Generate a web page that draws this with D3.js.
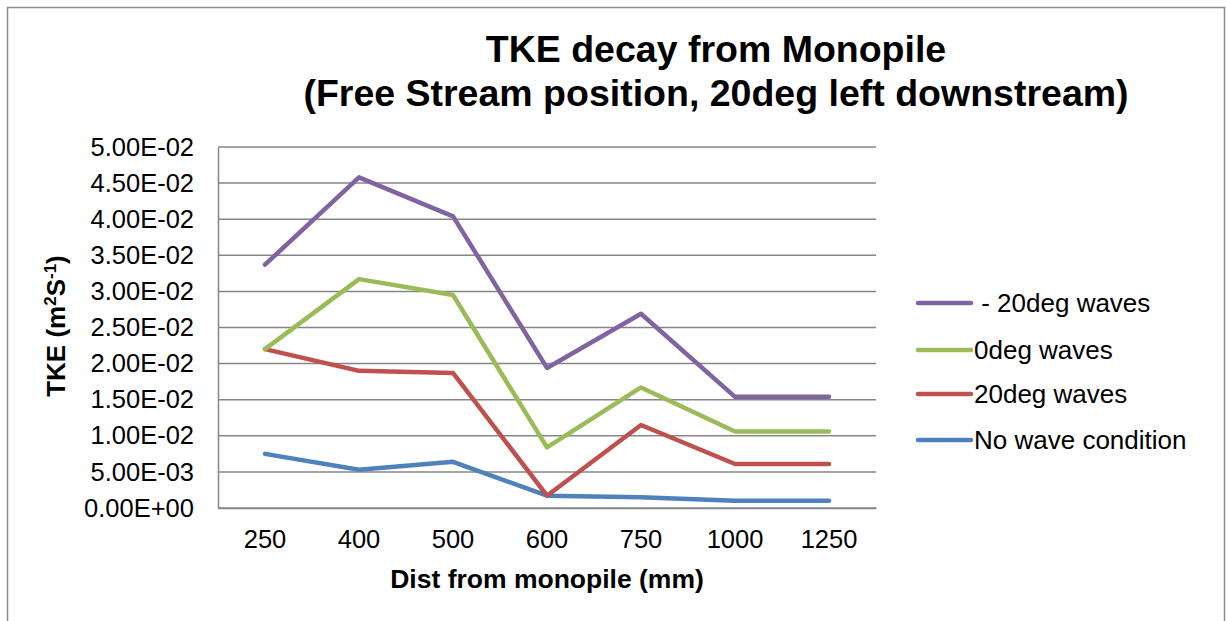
<!DOCTYPE html>
<html>
<head>
<meta charset="utf-8">
<script src="https://cdn.jsdelivr.net/npm/d3@7/dist/d3.min.js"></script>
<style>
  body, html { margin: 0; padding: 0; background: #fff; }
  svg { display: block; font-family: "Liberation Sans", Arial, sans-serif; }
</style>
</head>
<body>
<svg width="1226" height="621"></svg>
<script>
  // categories (distance from monopile, mm)
  var dists = ['250', '400', '500', '600', '750', '1000', '1250'];

  var minus20 = [0.0337, 0.0458, 0.0404, 0.0194, 0.0269, 0.0154, 0.0154],
      zero    = [0.0220, 0.0317, 0.0295, 0.0084, 0.0167, 0.0106, 0.0106],
      plus20  = [0.0220, 0.0190, 0.0187, 0.0017, 0.0115, 0.0061, 0.0061],
      noWave  = [0.0075, 0.0053, 0.0064, 0.0017, 0.0015, 0.0010, 0.0010];

  var seriesNames = [' - 20deg waves', '0deg waves', '20deg waves', 'No wave condition'];
  var yTicks = [0, 0.005, 0.01, 0.015, 0.02, 0.025, 0.03, 0.035, 0.04, 0.045, 0.05];

  var series = [
    { name: seriesNames[0], values: minus20, color: '#8064a2' },
    { name: seriesNames[1], values: zero,    color: '#9bbb59' },
    { name: seriesNames[2], values: plus20,  color: '#c0504d' },
    { name: seriesNames[3], values: noWave,  color: '#4f81bd' }
  ];

  var svg = d3.select('svg');

  // chart frame
  svg.append('rect')
    .attr('x', 7.5).attr('y', 7.5).attr('width', 1217).attr('height', 640)
    .attr('fill', 'none').attr('stroke', '#8c8c8c').attr('stroke-width', 1.5);

  var plotL = 218, plotT = 147, plotR = 876, plotB = 508;

  var x = d3.scaleBand().domain(dists).range([plotL, plotR]);
  var y = d3.scaleLinear().domain([0, 0.05]).range([plotB, plotT]);

  // gridlines
  svg.append('g').selectAll('line')
    .data(yTicks)
    .enter().append('line')
    .attr('x1', plotL).attr('x2', plotR)
    .attr('y1', function(d) { return y(d); })
    .attr('y2', function(d) { return y(d); })
    .attr('stroke', '#868686').attr('stroke-width', 1.5);

  // y axis
  var yAxis = d3.axisLeft(y).tickValues(yTicks).tickSize(0).tickPadding(24)
    .tickFormat(function(d) {
      var s = d.toExponential(2).toUpperCase();
      return s.replace(/E([+-])(\d)$/, 'E$10$2');
    });
  var gy = svg.append('g').attr('transform', 'translate(' + plotL + ',0)').call(yAxis);
  gy.select('.domain').attr('stroke', '#868686').attr('stroke-width', 1.5);
  gy.selectAll('text').attr('font-size', 25.5).attr('fill', '#000')
    .attr('font-family', '"Liberation Sans", Arial, sans-serif');

  // x axis
  var xAxis = d3.axisBottom(x).tickSize(0).tickPadding(22);
  var gx = svg.append('g').attr('transform', 'translate(0,' + plotB + ')').call(xAxis);
  gx.select('.domain').attr('stroke', '#868686').attr('stroke-width', 1.5);
  gx.selectAll('text').attr('font-size', 25.5).attr('fill', '#000')
    .attr('font-family', '"Liberation Sans", Arial, sans-serif');

  // lines
  var line = d3.line()
    .x(function(d, i) { return x(dists[i]) + x.bandwidth() / 2; })
    .y(function(d) { return y(d); });

  svg.append('g').selectAll('path')
    .data(series.slice().reverse())
    .enter().append('path')
    .attr('d', function(s) { return line(s.values); })
    .attr('fill', 'none')
    .attr('stroke', function(s) { return s.color; })
    .attr('stroke-width', 4.5)
    .attr('stroke-linejoin', 'round')
    .attr('stroke-linecap', 'round');

  // titles
  var title = svg.append('text')
    .attr('text-anchor', 'middle')
    .attr('font-size', 37.5).attr('font-weight', 'bold');
  title.append('tspan').attr('x', 716).attr('y', 62).text('TKE decay from Monopile');
  title.append('tspan').attr('x', 716).attr('y', 106).text('(Free Stream position, 20deg left downstream)');

  svg.append('text')
    .attr('x', 547).attr('y', 588)
    .attr('text-anchor', 'middle')
    .attr('font-size', 26.5).attr('font-weight', 'bold')
    .text('Dist from monopile (mm)');

  var yt = svg.append('text')
    .attr('transform', 'translate(65,326) rotate(-90)')
    .attr('text-anchor', 'middle')
    .attr('font-size', 26).attr('font-weight', 'bold');
  yt.append('tspan').text('TKE (m');
  yt.append('tspan').attr('font-size', 17).attr('dy', -9).text('2');
  yt.append('tspan').attr('dy', 9).text('S');
  yt.append('tspan').attr('font-size', 17).attr('dy', -9).text('-1');
  yt.append('tspan').attr('dy', 9).text(')');

  // legend
  var legend = svg.append('g').selectAll('g')
    .data(series)
    .enter().append('g')
    .attr('transform', function(d, i) { return 'translate(916,' + [303, 350, 394, 440][i] + ')'; });
  legend.append('line')
    .attr('x1', 2).attr('x2', 55).attr('y1', 0).attr('y2', 0)
    .attr('stroke', function(d) { return d.color; })
    .attr('stroke-width', 4.5).attr('stroke-linecap', 'round');
  legend.append('text')
    .attr('x', 58).attr('y', 9)
    .attr('font-size', 26)
    .attr('xml:space', 'preserve')
    .style('white-space', 'pre')
    .text(function(d) { return d.name; });
</script>
</body>
</html>
